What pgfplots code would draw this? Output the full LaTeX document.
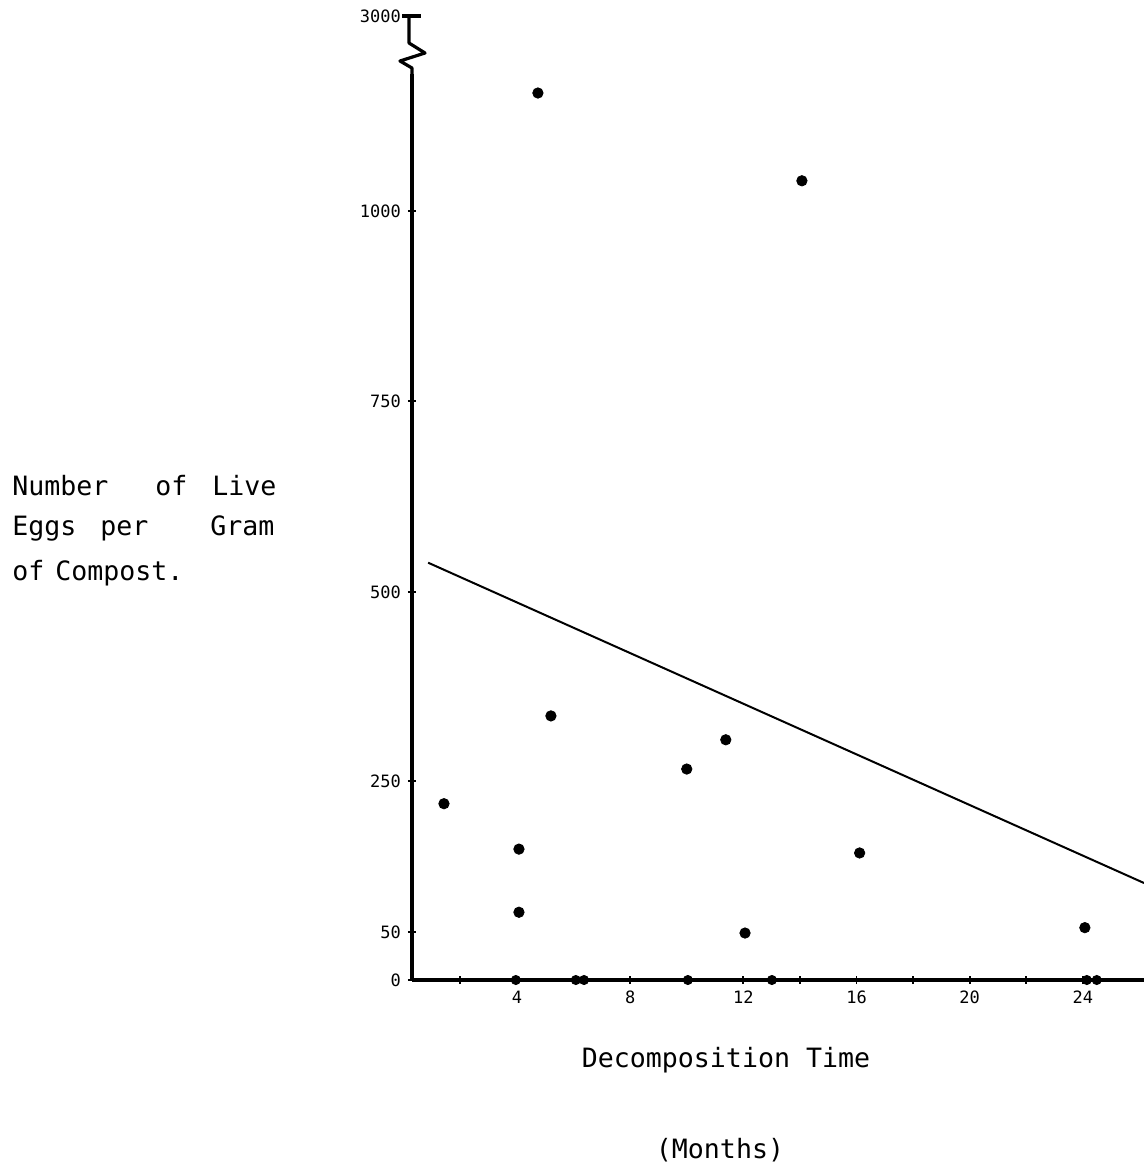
\documentclass[border=0pt]{standalone}
\usepackage{fontspec}
\setmainfont{DejaVu Sans}
\newfontfamily\plotfont{DejaVu Sans Mono}
\usepackage{pgfplots}
\pgfplotsset{compat=1.18}

% y values are in drawing units of the original (its scale is hand drawn),
% tick positions below carry the printed labels
\begin{document}
\begin{tikzpicture}
\begin{axis}[
    at={(206pt,-490pt)}, anchor=south west,
    scale only axis, width=366pt, height=482pt,
    xmin=0.29, xmax=26.16, ymin=0, ymax=1252,
    axis x line=bottom, axis y line=left,
    axis line style={-, line width=1.6pt},
    xtick={4,8,...,24}, xticklabels={4,8,12,16,20,24},
    minor xtick={2,6,...,22},
    ytick={0,62,258,504,752,999,1252},
    yticklabels={0,50,250,500,750,1000,3000},
    tick align=center, major tick length=4pt, minor tick length=4pt,
    tick style={line width=0.9pt, black},
    ticklabel style={font=\plotfont\fontsize{8.5}{10}\selectfont},
    clip=false,
]
\addplot[only marks, mark=*, mark size=2.6pt] coordinates {
    (1.42,229) (4.74,1152) (14.07,1038) (5.20,343) (4.07,170) (4.07,88)
    (11.38,312) (10.00,274) (16.11,165) (12.06,61) (24.07,68)
};
\addplot[only marks, mark=*, mark size=2.3pt] coordinates {
    (3.96,0) (6.08,0) (6.37,0) (10.04,0) (13.01,0) (24.14,0) (24.49,0)
};
\addplot[line width=1pt] coordinates {(0.86,542) (26.16,126)};
\end{axis}

\begin{scope}[x=0.5pt, y=-0.5pt]
  % axis break and top bar
  \fill[white] (402,18) rectangle (422,74);
  \draw[line width=1.6pt, line join=round] (409,16) -- (409,43) -- (425,53) -- (400,61) -- (412,68) -- (412,76);
  \draw[line width=1.6pt] (402,16) -- (421,16);
  \begin{scope}[every node/.style={inner sep=0pt, font=\plotfont\fontsize{13.3}{16}\selectfont}]
    \node[anchor=base west] at (12,495) {Number};
    \node[anchor=base west] at (155,495) {of};
    \node[anchor=base west] at (212,495) {Live};
    \node[anchor=base west] at (12,535) {Eggs};
    \node[anchor=base west] at (100,535) {per};
    \node[anchor=base west] at (210,535) {Gram};
    \node[anchor=base west] at (12,580) {of};
    \node[anchor=base west] at (55,580) {Compost.};
    \node[anchor=base] at (726,1067) {Decomposition Time};
    \node[anchor=base] at (720,1158) {(Months)};
  \end{scope}
\end{scope}
\pgfresetboundingbox
\path (0pt,0pt) rectangle (572pt,-584.5pt);
\end{tikzpicture}
\end{document}
